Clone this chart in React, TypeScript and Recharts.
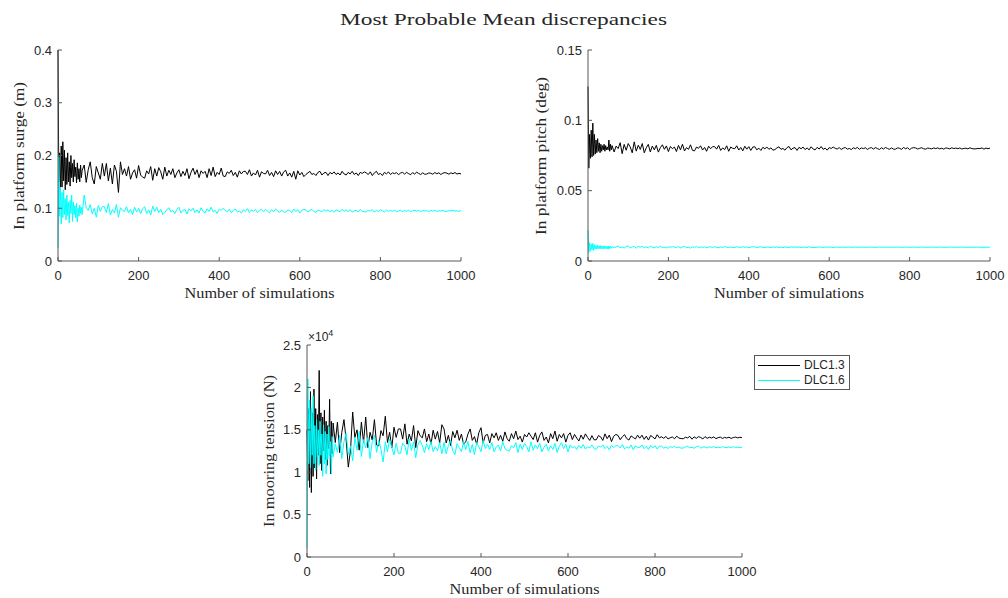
import { LineChart, Line, XAxis, YAxis, Legend } from 'recharts'

// simulation counts where values were read (every 2 at the start, then every 5)
const SIMS = [
  0, 2, 4, 6, 8, 10, 12, 14, 16, 18, 20, 22, 24, 26, 28, 30, 32, 34, 36, 38, 40, 42, 44, 46, 48, 50, 52, 54, 56, 58, 60,
  65, 70, 75, 80, 85, 90, 95, 100, 105, 110,
  115, 120, 125, 130, 135, 140, 145, 150, 155, 160,
  165, 170, 175, 180, 185, 190, 195, 200, 205, 210,
  215, 220, 225, 230, 235, 240, 245, 250, 255, 260,
  265, 270, 275, 280, 285, 290, 295, 300, 305, 310,
  315, 320, 325, 330, 335, 340, 345, 350, 355, 360,
  365, 370, 375, 380, 385, 390, 395, 400, 405, 410,
  415, 420, 425, 430, 435, 440, 445, 450, 455, 460,
  465, 470, 475, 480, 485, 490, 495, 500, 505, 510,
  515, 520, 525, 530, 535, 540, 545, 550, 555, 560,
  565, 570, 575, 580, 585, 590, 595, 600, 605, 610,
  615, 620, 625, 630, 635, 640, 645, 650, 655, 660,
  665, 670, 675, 680, 685, 690, 695, 700, 705, 710,
  715, 720, 725, 730, 735, 740, 745, 750, 755, 760,
  765, 770, 775, 780, 785, 790, 795, 800, 805, 810,
  815, 820, 825, 830, 835, 840, 845, 850, 855, 860,
  865, 870, 875, 880, 885, 890, 895, 900, 905, 910,
  915, 920, 925, 930, 935, 940, 945, 950, 955, 960,
  965, 970, 975, 980, 985, 990, 995, 1000,
]

const SURGE_13 = [
  0.400, 0.150, 0.205, 0.128, 0.218, 0.140, 0.226, 0.152, 0.210, 0.135, 0.196, 0.145, 0.205, 0.150, 0.188, 0.142,
  0.200, 0.158, 0.185, 0.150, 0.192, 0.160, 0.178, 0.148, 0.186, 0.155, 0.175, 0.150, 0.182, 0.158, 0.172,
  0.182, 0.149, 0.173, 0.188, 0.158, 0.146, 0.179, 0.167, 0.155, 0.185,
  0.161, 0.185, 0.152, 0.176, 0.146, 0.182, 0.170, 0.130, 0.188, 0.164,
  0.175, 0.161, 0.179, 0.155, 0.167, 0.173, 0.157, 0.181, 0.163, 0.159,
  0.157, 0.171, 0.165, 0.179, 0.153, 0.175, 0.161, 0.177, 0.169, 0.155,
  0.178, 0.161, 0.172, 0.164, 0.175, 0.158, 0.167, 0.173, 0.160, 0.170,
  0.162, 0.175, 0.156, 0.168, 0.176, 0.164, 0.173, 0.158, 0.171, 0.166,
  0.170, 0.158, 0.175, 0.162, 0.178, 0.160, 0.168, 0.164, 0.176, 0.161,
  0.160, 0.169, 0.166, 0.172, 0.162, 0.168, 0.159, 0.171, 0.165, 0.170,
  0.170, 0.164, 0.173, 0.161, 0.167, 0.163, 0.172, 0.159, 0.169, 0.166,
  0.165, 0.172, 0.162, 0.168, 0.160, 0.171, 0.164, 0.170, 0.161, 0.169,
  0.172, 0.161, 0.167, 0.159, 0.170, 0.155, 0.171, 0.163, 0.168, 0.160,
  0.164, 0.167, 0.170, 0.164, 0.166, 0.162, 0.168, 0.170, 0.163, 0.167,
  0.168, 0.162, 0.168, 0.165, 0.169, 0.164, 0.167, 0.163, 0.170, 0.165,
  0.163, 0.168, 0.165, 0.170, 0.164, 0.167, 0.162, 0.168, 0.166, 0.169,
  0.167, 0.164, 0.169, 0.162, 0.167, 0.170, 0.164, 0.166, 0.162, 0.168,
  0.1652, 0.1688, 0.1640, 0.1672, 0.1656, 0.1676, 0.1636, 0.1668, 0.1680, 0.1648,
  0.1680, 0.1656, 0.1636, 0.1676, 0.1648, 0.1684, 0.1660, 0.1640, 0.1672, 0.1644,
  0.1648, 0.1669, 0.1663, 0.1645, 0.1678, 0.1654, 0.1672, 0.1639, 0.1666, 0.1675,
  0.1666, 0.1645, 0.1672, 0.1654, 0.1678, 0.1648, 0.1663, 0.1651,
]

const SURGE_16 = [
  0.025, 0.198, 0.085, 0.140, 0.070, 0.130, 0.082, 0.135, 0.088, 0.118, 0.078, 0.125, 0.086, 0.112, 0.072, 0.115,
  0.090, 0.125, 0.075, 0.112, 0.088, 0.105, 0.082, 0.110, 0.074, 0.100, 0.085, 0.106, 0.090, 0.102, 0.088,
  0.125, 0.101, 0.096, 0.107, 0.089, 0.100, 0.083, 0.105, 0.094, 0.103,
  0.103, 0.092, 0.109, 0.087, 0.098, 0.091, 0.107, 0.083, 0.101, 0.096,
  0.094, 0.103, 0.091, 0.098, 0.088, 0.102, 0.093, 0.100, 0.090, 0.099,
  0.103, 0.090, 0.097, 0.087, 0.104, 0.094, 0.102, 0.092, 0.098, 0.088,
  0.092, 0.097, 0.101, 0.093, 0.096, 0.090, 0.098, 0.102, 0.091, 0.096,
  0.098, 0.089, 0.099, 0.095, 0.100, 0.092, 0.097, 0.091, 0.101, 0.094,
  0.091, 0.099, 0.094, 0.102, 0.093, 0.096, 0.090, 0.098, 0.096, 0.100,
  0.0956, 0.0932, 0.0980, 0.0914, 0.0962, 0.0986, 0.0926, 0.0950, 0.0908, 0.0974,
  0.0938, 0.0992, 0.0920, 0.0968, 0.0944, 0.0974, 0.0914, 0.0962, 0.0980, 0.0932,
  0.0980, 0.0944, 0.0914, 0.0974, 0.0932, 0.0986, 0.0950, 0.0920, 0.0968, 0.0926,
  0.0926, 0.0968, 0.0956, 0.0920, 0.0986, 0.0938, 0.0974, 0.0908, 0.0962, 0.0980,
  0.0970, 0.0926, 0.0958, 0.0978, 0.0938, 0.0922, 0.0966, 0.0950, 0.0934, 0.0974,
  0.0942, 0.0974, 0.0930, 0.0962, 0.0922, 0.0970, 0.0954, 0.0934, 0.0978, 0.0946,
  0.0966, 0.0938, 0.0974, 0.0926, 0.0950, 0.0962, 0.0930, 0.0978, 0.0942, 0.0934,
  0.0930, 0.0958, 0.0946, 0.0974, 0.0922, 0.0966, 0.0938, 0.0970, 0.0954, 0.0926,
  0.0968, 0.0940, 0.0958, 0.0945, 0.0963, 0.0935, 0.0950, 0.0960, 0.0938, 0.0955,
  0.0943, 0.0963, 0.0933, 0.0953, 0.0965, 0.0945, 0.0960, 0.0935, 0.0958, 0.0948,
  0.0954, 0.0938, 0.0960, 0.0944, 0.0964, 0.0940, 0.0952, 0.0946, 0.0962, 0.0942,
  0.0941, 0.0955, 0.0950, 0.0959, 0.0944, 0.0953, 0.0940, 0.0958,
]

const PITCH_13 = [
  0.124, 0.066, 0.090, 0.073, 0.093, 0.074, 0.098, 0.075, 0.090, 0.076, 0.086, 0.077, 0.087, 0.078, 0.084, 0.077,
  0.083, 0.078, 0.082, 0.079, 0.083, 0.078, 0.082, 0.079, 0.081, 0.079, 0.086, 0.078, 0.083, 0.079, 0.082,
  0.0775, 0.0817, 0.0799, 0.0841, 0.0763, 0.0829, 0.0787, 0.0835, 0.0811, 0.0769,
  0.0847, 0.0781, 0.0823, 0.0793, 0.0835, 0.0769, 0.0805, 0.0829, 0.0775, 0.0817,
  0.0790, 0.0822, 0.0774, 0.0806, 0.0826, 0.0794, 0.0818, 0.0778, 0.0814, 0.0798,
  0.0810, 0.0778, 0.0822, 0.0790, 0.0830, 0.0782, 0.0806, 0.0794, 0.0826, 0.0786,
  0.0783, 0.0810, 0.0801, 0.0819, 0.0789, 0.0807, 0.0780, 0.0816, 0.0798, 0.0813,
  0.0813, 0.0795, 0.0822, 0.0786, 0.0804, 0.0792, 0.0819, 0.0780, 0.0810, 0.0801,
  0.0798, 0.0819, 0.0789, 0.0807, 0.0783, 0.0816, 0.0795, 0.0813, 0.0786, 0.0810,
  0.0812, 0.0790, 0.0802, 0.0786, 0.0808, 0.0798, 0.0810, 0.0794, 0.0804, 0.0788,
  0.0792, 0.0804, 0.0812, 0.0794, 0.0800, 0.0788, 0.0806, 0.0814, 0.0790, 0.0802,
  0.0806, 0.0786, 0.0808, 0.0798, 0.0810, 0.0792, 0.0804, 0.0790, 0.0812, 0.0796,
  0.0790, 0.0808, 0.0796, 0.0814, 0.0794, 0.0802, 0.0788, 0.0806, 0.0800, 0.0810,
  0.0801, 0.0796, 0.0806, 0.0793, 0.0802, 0.0807, 0.0795, 0.0800, 0.0792, 0.0805,
  0.0798, 0.0808, 0.0794, 0.0804, 0.0799, 0.0805, 0.0793, 0.0802, 0.0806, 0.0796,
  0.0806, 0.0799, 0.0793, 0.0805, 0.0796, 0.0807, 0.0800, 0.0794, 0.0804, 0.0795,
  0.0795, 0.0804, 0.0801, 0.0794, 0.0807, 0.0798, 0.0805, 0.0792, 0.0802, 0.0806,
  0.0804, 0.0796, 0.0801, 0.0805, 0.0798, 0.0795, 0.0803, 0.0800, 0.0797, 0.0804,
  0.0799, 0.0804, 0.0797, 0.0802, 0.0795, 0.0804, 0.0801, 0.0797, 0.0805, 0.0799,
  0.0803, 0.0798, 0.0804, 0.0796, 0.0800, 0.0802, 0.0797, 0.0805, 0.0799, 0.0797,
  0.0797, 0.0801, 0.0799, 0.0804, 0.0795, 0.0803, 0.0798, 0.0803,
]

const PITCH_16 = [
  0.022, 0.006, 0.013, 0.007, 0.012, 0.008, 0.0125, 0.0075, 0.0115, 0.0085, 0.011, 0.0085, 0.0112, 0.0088, 0.0108, 0.0086,
  0.011, 0.0088, 0.0106, 0.0085, 0.0108, 0.0088, 0.0106, 0.0087, 0.0105, 0.0084, 0.0107, 0.0089, 0.0104, 0.009, 0.0103,
  0.0094, 0.0101, 0.0106, 0.0095, 0.0099, 0.0092, 0.0103, 0.0107, 0.0093, 0.0100,
  0.0103, 0.0091, 0.0104, 0.0098, 0.0105, 0.0094, 0.0101, 0.0093, 0.0106, 0.0097,
  0.0094, 0.0101, 0.0096, 0.0104, 0.0096, 0.0099, 0.0093, 0.0100, 0.0098, 0.0102,
  0.0099, 0.0096, 0.0102, 0.0093, 0.0100, 0.0103, 0.0095, 0.0098, 0.0092, 0.0101,
  0.0097, 0.0102, 0.0095, 0.0100, 0.0097, 0.0100, 0.0094, 0.0099, 0.0101, 0.0096,
  0.0101, 0.0097, 0.0094, 0.0100, 0.0096, 0.0102, 0.0098, 0.0095, 0.0100, 0.0096,
  0.0096, 0.0100, 0.0099, 0.0095, 0.0102, 0.0097, 0.0100, 0.0094, 0.0099, 0.0101,
  0.0100, 0.0096, 0.0099, 0.0101, 0.0097, 0.0095, 0.0100, 0.0098, 0.0096, 0.0100,
  0.0097, 0.0100, 0.0096, 0.0099, 0.0095, 0.0100, 0.0098, 0.0096, 0.0101, 0.0098,
  0.0100, 0.0097, 0.0100, 0.0096, 0.0098, 0.0099, 0.0096, 0.0101, 0.0097, 0.0096,
  0.0096, 0.0099, 0.0098, 0.0100, 0.0095, 0.0100, 0.0097, 0.0100, 0.0098, 0.0096,
  0.0098, 0.0099, 0.0097, 0.0098, 0.0099, 0.0097, 0.0098, 0.0099, 0.0098, 0.0097,
  0.0099, 0.0098, 0.0097, 0.0099, 0.0098, 0.0098, 0.0097, 0.0099, 0.0098, 0.0098,
  0.0097, 0.0098, 0.0099, 0.0098, 0.0097, 0.0099, 0.0098, 0.0098, 0.0099, 0.0097,
  0.0098, 0.0099, 0.0098, 0.0097, 0.0098, 0.0099, 0.0098, 0.0097, 0.0098, 0.0099,
  0.0098, 0.0097, 0.0098, 0.0099, 0.0098, 0.0098, 0.0097, 0.0098, 0.0099, 0.0098,
  0.0098, 0.0098, 0.0099, 0.0098, 0.0097, 0.0098, 0.0098, 0.0099, 0.0098, 0.0098,
  0.0097, 0.0098, 0.0098, 0.0099, 0.0098, 0.0098, 0.0097, 0.0098, 0.0098, 0.0098,
  0.0098, 0.0099, 0.0098, 0.0098, 0.0097, 0.0098, 0.0098, 0.0098,
]

const TENSION_13 = [
  15000, 9000, 17500, 8200, 19500, 7600, 17000, 9500, 19800, 10500, 17500, 9200, 16800, 12000, 22000, 11000,
  17000, 10200, 16500, 12500, 17300, 11500, 16000, 10800, 15500, 12800, 18600, 9800, 16000, 12200, 15800,
  13500, 15900, 12300, 14700, 16200, 13800, 10600, 12600, 17100, 14100,
  15000, 12600, 15900, 13500, 16500, 12900, 14700, 13800, 16200, 13200,
  13100, 14900, 14300, 16600, 13500, 14700, 12900, 15300, 14100, 15100,
  15100, 13900, 15700, 13300, 14500, 13700, 15500, 12900, 14900, 14300,
  14050, 15100, 13600, 14500, 13300, 14950, 13900, 14800, 13450, 15600,
  15100, 13450, 14350, 13150, 14800, 14050, 14950, 13750, 14500, 13300,
  13600, 14500, 15100, 13750, 14200, 13300, 14650, 15250, 13450, 14350,
  14450, 13450, 14550, 14050, 14650, 13750, 14350, 13650, 14750, 13950,
  13650, 14550, 13950, 14850, 13850, 14250, 13550, 14450, 14150, 14650,
  14250, 13850, 14650, 13550, 14350, 14750, 13750, 14150, 13450, 14550,
  13950, 14850, 13650, 14450, 14050, 14550, 13550, 14350, 14650, 13850,
  14450, 14030, 13680, 14380, 13890, 14520, 14100, 13750, 14310, 13820,
  13820, 14310, 14170, 13750, 14520, 13960, 14380, 13610, 14240, 14450,
  14330, 13830, 14190, 14420, 13970, 13790, 14280, 14100, 13920, 14370,
  14010, 14370, 13880, 14240, 13790, 14330, 14150, 13920, 14420, 14060,
  14170, 13995, 14220, 13920, 14070, 14145, 13945, 14245, 14020, 13970,
  13945, 14120, 14045, 14220, 13895, 14170, 13995, 14195, 14095, 13920,
  14196, 13998, 14124, 14034, 14160, 13962, 14070, 14142, 13980, 14106,
  14034, 14130, 13986, 14082, 14142, 14046, 14118, 14070,
]

const TENSION_16 = [
  1000, 21000, 11000, 18500, 10500, 17500, 12000, 19000, 11000, 15500, 10200, 16200, 11800, 15000, 10800, 16000,
  12000, 14500, 9500, 15600, 11000, 14800, 9800, 14500, 11500, 15400, 12000, 13600, 9800, 14200, 11800,
  13350, 12350, 14350, 11600, 13600, 14600, 12100, 13100, 11350, 14100,
  12600, 14850, 11850, 13850, 12850, 14100, 11600, 13600, 14350, 12350,
  13750, 12730, 11200, 13580, 12390, 13920, 12900, 12050, 13410, 12220,
  12220, 13410, 13070, 12050, 13920, 12560, 13580, 11710, 13240, 13750,
  13140, 12300, 13380, 12660, 13620, 12420, 13020, 12540, 13500, 12180,
  13500, 12180, 13140, 13740, 12540, 12060, 13380, 12900, 12420, 13620,
  12660, 13620, 12300, 13260, 12060, 13500, 13020, 12420, 13740, 12780,
  13310, 12680, 13490, 12410, 12950, 13220, 12500, 13580, 12770, 12590,
  12500, 13130, 12860, 13490, 12320, 13310, 12680, 13400, 13040, 12410,
  13580, 12590, 13220, 12770, 13400, 12410, 12950, 13310, 12500, 13130,
  12680, 13400, 12320, 13040, 13490, 12770, 13310, 12410, 13220, 12860,
  13040, 12680, 13175, 12815, 13265, 12725, 12995, 12860, 13220, 12770,
  12680, 13085, 12950, 13220, 12770, 13040, 12635, 13175, 12905, 13130,
  13130, 12860, 13265, 12725, 12995, 12815, 13220, 12635, 13085, 12950,
  12905, 13220, 12770, 13040, 12680, 13175, 12860, 13130, 12725, 13085,
  13060, 12840, 12960, 12800, 13020, 12920, 13040, 12880, 12980, 12820,
  12860, 12980, 13060, 12880, 12940, 12820, 13000, 13080, 12840, 12960,
  12976, 12856, 12988, 12928, 13000, 12892, 12964, 12880, 13012, 12916,
  12900, 12972, 12924, 12996, 12916, 12948, 12892, 12940,
]

const SERIES_NAMES = ['DLC1.3', 'DLC1.6']
const X_TICKS = [0, 200, 400, 600, 800, 1000]
const SURGE_TICKS = [0, 0.1, 0.2, 0.3, 0.4]
const PITCH_TICKS = [0, 0.05, 0.1, 0.15]
const TENSION_TICKS = [0, 5000, 10000, 15000, 20000, 25000]

const W = 1008
const H = 598
const AXIS = '#595959'
const INK = '#262626'
const SANS = '"Liberation Sans", Arial, sans-serif'
const SERIF = '"Liberation Serif", "Times New Roman", serif'
const X_AXIS_H = 40

interface Box { l: number; t: number; r: number; b: number }

interface PanelProps {
  box: Box
  a: number[]
  b: number[]
  yMax: number
  yTicks: number[]
  yFmt?: (v: number) => string
  legend?: boolean
}

function LegendBox({ payload }: { payload?: Array<{ value: string; color: string }> }) {
  if (!payload?.length) return null
  return (
    <div style={{ width: 96, height: 35, boxSizing: 'border-box', border: `1px solid ${AXIS}`, background: '#fff', paddingTop: 2 }}>
      {payload.map(p => (
        <div key={p.value} style={{ display: 'flex', alignItems: 'center', height: 15 }}>
          <svg width={49} height={15} style={{ display: 'block' }}>
            <line x1={3} x2={45} y1={7.5} y2={7.5} stroke={p.color} strokeWidth={1} />
          </svg>
          <span style={{ fontFamily: SANS, fontSize: 12, color: INK, lineHeight: '15px' }}>{p.value}</span>
        </div>
      ))}
    </div>
  )
}

function Panel({ box, a, b, yMax, yTicks, yFmt, legend }: PanelProps) {
  const data = SIMS.map((sim, i) => ({ sim, a: a[i], b: b[i] }))
  const tickStyle = { fill: INK, fontSize: 13, fontFamily: SANS }
  return (
    <div style={{ position: 'absolute', left: 0, top: 0 }}>
      <LineChart
        width={W}
        height={H}
        data={data}
        margin={{ top: box.t, left: 0, right: W - box.r, bottom: H - box.b - X_AXIS_H }}
      >
        <XAxis
          dataKey="sim" type="number" domain={[0, 1000]} ticks={X_TICKS} interval={0}
          height={X_AXIS_H} tickSize={-4} tickMargin={14} stroke={AXIS} tick={tickStyle}
        />
        <XAxis
          xAxisId="top" orientation="top" dataKey="sim" type="number" domain={[0, 1000]}
          ticks={X_TICKS} interval={0} height={0} tickSize={-4} tick={false} stroke={AXIS}
        />
        <YAxis
          type="number" domain={[0, yMax]} ticks={yTicks} interval={0} width={box.l}
          tickSize={-4} tickMargin={10} stroke={AXIS} tick={tickStyle} tickFormatter={yFmt}
        />
        <YAxis
          yAxisId="right" orientation="right" type="number" domain={[0, yMax]} ticks={yTicks}
          interval={0} width={0} tickSize={-4} tick={false} stroke={AXIS}
        />
        <Line type="linear" dataKey="a" name={SERIES_NAMES[0]} stroke="#000000" strokeWidth={1} dot={false} isAnimationActive={false} />
        <Line type="linear" dataKey="b" name={SERIES_NAMES[1]} stroke="#00ffff" strokeWidth={1} dot={false} isAnimationActive={false} />
        {legend && (
          <Legend
            layout="vertical" align="center" verticalAlign="middle"
            wrapperStyle={{ left: 754, top: 355, width: 96, height: 35 }}
            content={(props: any) => <LegendBox payload={props.payload} />}
          />
        )}
      </LineChart>
    </div>
  )
}

function RotLabel({ x, y, len, text }: { x: number; y: number; len: number; text: string }) {
  return (
    <text
      transform={`translate(${x},${y}) rotate(-90)`} textAnchor="middle" dominantBaseline="central"
      fontFamily={SERIF} fontSize={15} fill={INK} textLength={len} lengthAdjust="spacingAndGlyphs"
    >
      {text}
    </text>
  )
}

function XLabel({ x, y }: { x: number; y: number }) {
  return (
    <text x={x} y={y} textAnchor="middle" fontFamily={SERIF} fontSize={15} fill={INK} textLength={150} lengthAdjust="spacingAndGlyphs">
      Number of simulations
    </text>
  )
}

export default function App() {
  return (
    <div style={{ position: 'absolute', left: 0, top: 0, width: W, height: H, background: '#fff', overflow: 'hidden' }}>
      <Panel box={{ l: 58, t: 50, r: 461, b: 261 }} a={SURGE_13} b={SURGE_16} yMax={0.4} yTicks={SURGE_TICKS} />
      <Panel box={{ l: 588, t: 50, r: 990, b: 261 }} a={PITCH_13} b={PITCH_16} yMax={0.15} yTicks={PITCH_TICKS} />
      <Panel
        box={{ l: 307, t: 345, r: 742, b: 557 }} a={TENSION_13} b={TENSION_16} yMax={25000}
        yTicks={TENSION_TICKS} yFmt={v => String(v / 10000)} legend
      />
      <svg width={W} height={H} style={{ position: 'absolute', left: 0, top: 0, pointerEvents: 'none' }}>
        <text x={503.5} y={25} textAnchor="middle" fontFamily={SERIF} fontSize={17} fill={INK} textLength={327} lengthAdjust="spacingAndGlyphs">
          Most Probable Mean discrepancies
        </text>
        <RotLabel x={19} y={156} len={148} text="In platform surge (m)" />
        <RotLabel x={541} y={156} len={158} text="In platform pitch (deg)" />
        <RotLabel x={269} y={451} len={152} text="In mooring tension (N)" />
        <XLabel x={259.5} y={298} />
        <XLabel x={789} y={298} />
        <XLabel x={524.5} y={594} />
        <text x={308} y={341} fontFamily={SANS} fontSize={12} fill={INK}>
          ×10<tspan dy={-5} fontSize={9}>4</tspan>
        </text>
      </svg>
    </div>
  )
}
